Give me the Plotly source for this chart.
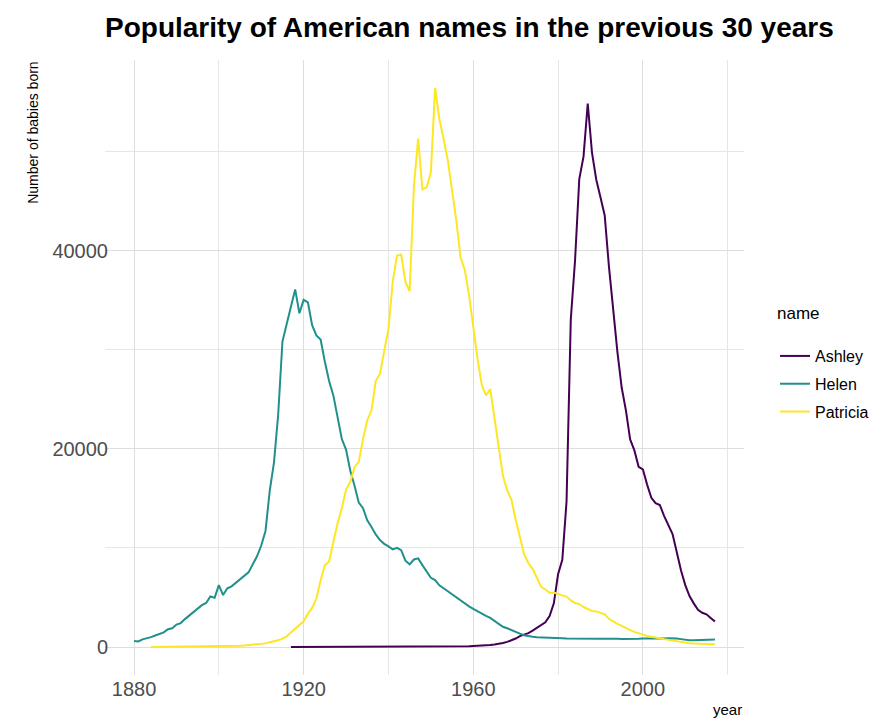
import plotly.graph_objects as go

# babies born per year
helen_years = list(range(1880, 2018))
helen = [
    600, 560, 780, 860, 1000, 1170, 1350, 1480, 1800, 1900,
    2270, 2420, 2820, 3150, 3500, 3840, 4230, 4450, 5100, 4980,
    6250, 5250, 5930, 6130, 6460, 6870, 7200, 7540, 8350, 9160,
    10250, 11720, 15760, 18620, 23500, 30840, 32600, 34340, 36100, 33700,
    35050, 34800, 32500, 31450, 31050, 28800, 26850, 25400, 23150, 21000,
    19940, 17790, 16280, 14580, 14010, 12800, 12120, 11370, 10800, 10420,
    10160, 9860, 10010, 9780, 8720, 8350, 8840, 8950, 8270, 7590,
    6990, 6760, 6230, 5930, 5630, 5250, 5000, 4700, 4400, 4100,
    3850, 3600, 3350, 3150, 2950, 2650, 2300, 2050, 1900, 1700,
    1500, 1350, 1200, 1100, 1040, 990, 960, 940, 920, 910,
    900, 880, 860, 850, 830, 820, 800, 810, 820, 800,
    830, 850, 820, 800, 830, 820, 810, 830, 850, 840,
    860, 850, 870, 860, 880, 870, 890, 900, 870, 800,
    720, 680, 690, 720, 700, 730, 760, 770,
]

patricia_years = list(range(1884, 2018))
patricia = [
    5, 8, 10, 12, 15, 18,
    20, 22, 25, 28, 30, 35, 40, 45, 50, 55,
    60, 70, 80, 90, 100, 120, 150, 190, 240, 280,
    320, 370, 480, 570, 680, 850, 1080, 1480, 1850, 2250,
    2600, 3350, 3950, 4880, 6750, 8250, 8650, 10610, 12500, 14010,
    15900, 16650, 18160, 18690, 21000, 22890, 23900, 26850, 27600, 29870,
    32140, 36860, 39500, 39620, 36860, 35910, 46490, 51320, 46190, 46410,
    47920, 56440, 53290, 51320, 49130, 46110, 43090, 39310, 38100, 35540,
    32140, 29120, 26470, 25400, 26050, 23100, 19950, 17280, 15810, 14890,
    12870, 11030, 9380, 8460, 7900, 6990, 6070, 5810, 5450, 5510,
    5330, 5220, 5100, 4710, 4450, 4340, 4040, 3850, 3640, 3600,
    3480, 3310, 2850, 2570, 2330, 2130, 1900, 1700, 1530, 1420,
    1250, 1120, 1020, 950, 880, 800, 730, 650, 560, 470,
    420, 380, 360, 340, 320, 310, 300, 290,
]

ashley_years = list(range(1917, 2018))
ashley = [
    5, 5, 6,
    6, 7, 7, 8, 8, 9, 9, 10, 10, 10,
    10, 11, 11, 12, 12, 13, 13, 14, 14, 15,
    15, 16, 17, 18, 19, 20, 22, 24, 26, 28,
    30, 33, 36, 40, 45, 50, 55, 60, 70, 80,
    100, 110, 130, 160, 200, 260, 320, 400, 520, 660,
    860, 1100, 1250, 1400, 1650, 1910, 2200, 2500, 3125, 4410,
    7350, 8800, 14700, 33090, 39000, 47240, 49500, 54850, 49900, 47200,
    45400, 43570, 38400, 34000, 29780, 26200, 23900, 20960, 19850, 18200,
    17940, 16400, 15070, 14520, 14340, 13240, 12320, 11400, 9560, 7720,
    6250, 5150, 4410, 3750, 3460, 3310, 2940, 2570,
]

series = [
    ("Ashley", ashley_years, ashley, "#440154"),
    ("Helen", helen_years, helen, "#21908C"),
    ("Patricia", patricia_years, patricia, "#FDE725"),
]

fig = go.Figure()
for name, xs, ys, col in series:
    fig.add_trace(go.Scatter(
        x=xs, y=ys, mode="lines", name=name, legendgroup=name,
        line=dict(color=col, width=2),
    ))

# ggplot-style 5% expansion
ymax = max(max(helen), max(patricia), max(ashley))
ypad = 0.05 * ymax
xpad = 0.05 * (2017 - 1880)

font = "Liberation Sans, Arial, Helvetica, sans-serif"
grid = "#DEDEDE"

# page body keeps its 8px margin, so the figure is 8px smaller each way
fig.update_layout(
    width=880, height=713,
    margin=dict(l=97, r=144, t=52, b=46),
    plot_bgcolor="white", paper_bgcolor="white",
    font=dict(family=font, color="#4D4D4D"),
    title=dict(
        text="<b>Popularity of American names in the previous 30 years</b>",
        x=0, xref="paper", xanchor="left", y=0.973, yanchor="middle",
        font=dict(size=28, color="black", family=font),
    ),
    legend=dict(
        font=dict(size=16, color="black"),
        x=1.0485, xanchor="left", y=0.5463, yanchor="top",
        tracegroupgap=4, itemwidth=30,
    ),
    showlegend=True,
)

fig.update_xaxes(
    range=[1880 - xpad, 2017 + xpad],
    tick0=1880, dtick=40, showgrid=True, gridcolor=grid, gridwidth=1.2,
    minor=dict(tick0=1880, dtick=20, showgrid=True, gridcolor="#E6E6E6", gridwidth=0.8),
    zeroline=False, showline=False, ticks="",
    tickfont=dict(size=20, color="#4D4D4D"),
)
fig.update_yaxes(
    range=[-ypad, ymax + ypad],
    tick0=0, dtick=20000, showgrid=True, gridcolor=grid, gridwidth=1.2,
    minor=dict(tick0=0, dtick=10000, showgrid=True, gridcolor="#E6E6E6", gridwidth=0.8),
    zeroline=False, showline=False, ticks="",
    tickfont=dict(size=20, color="#4D4D4D"), tickformat="d",
    ticklabelstandoff=-4,
)

fig.add_annotation(
    text="Number of babies born", textangle=-90,
    xref="paper", yref="paper", x=-0.113, y=1, xanchor="center", yanchor="top",
    showarrow=False, font=dict(size=14, color="black"),
)
fig.add_annotation(
    text="name", xref="paper", yref="paper", x=1.0485, y=0.5886,
    xanchor="left", yanchor="middle",
    showarrow=False, font=dict(size=17, color="black"),
)
fig.add_annotation(
    text="year", xref="paper", yref="paper", x=1, y=-0.073,
    xanchor="right", yanchor="bottom",
    showarrow=False, font=dict(size=15, color="black"),
)

fig.write_html("out.html")
